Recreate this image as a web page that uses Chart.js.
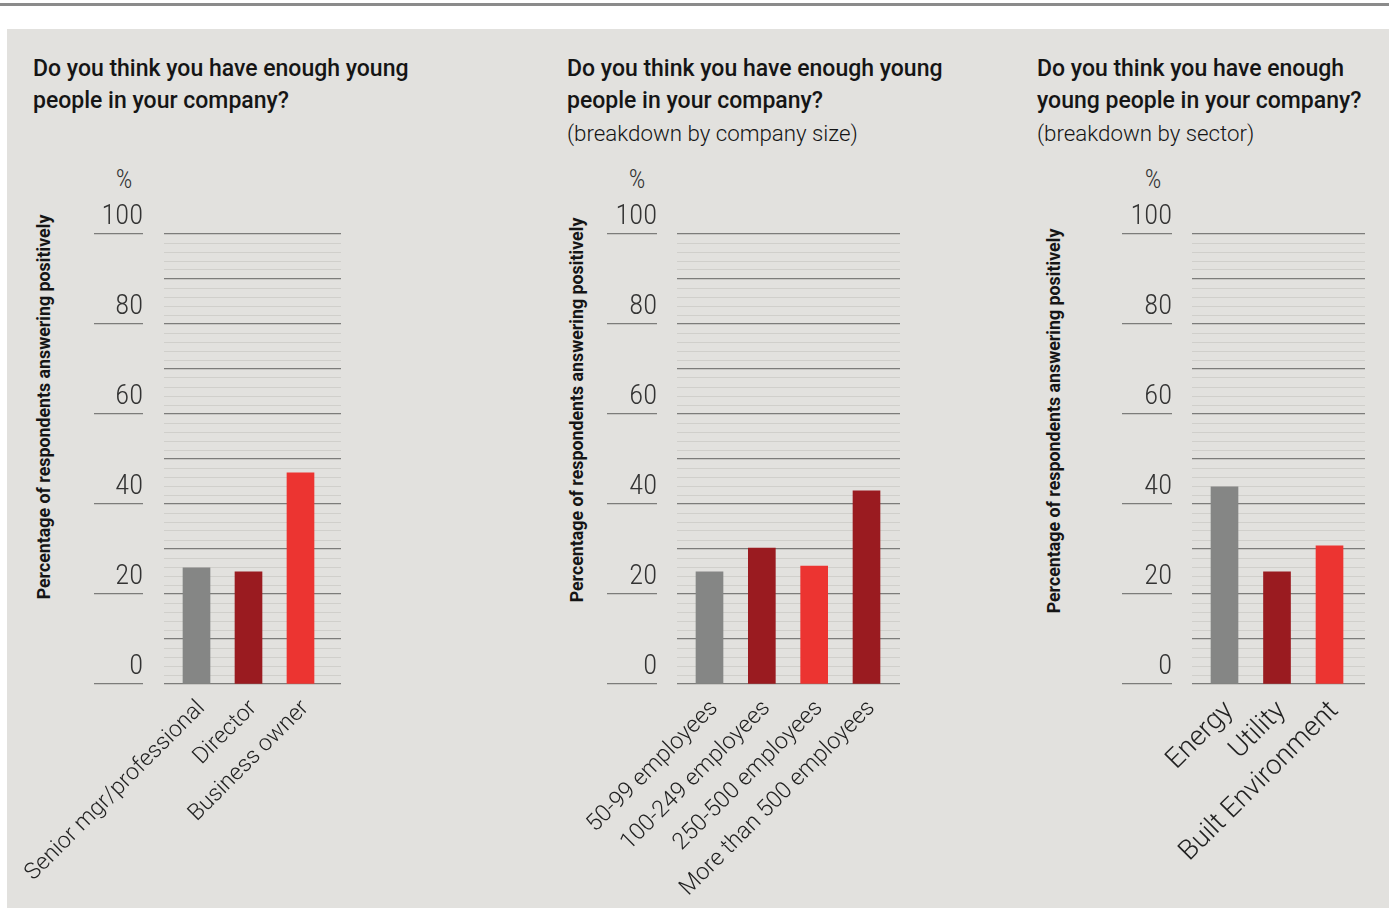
<!DOCTYPE html>
<html>
<head>
<meta charset="utf-8">
<script src="https://cdn.jsdelivr.net/npm/chart.js@4.4.1/dist/chart.umd.min.js"></script>
<style>
  body { margin: 0; background: #fff; width: 1393px; height: 908px; position: relative; overflow: hidden; font-family: Roboto, sans-serif; color: #151515; }
  .rule { position: absolute; left: 0; top: 3px; width: 1389px; height: 2.5px; background: #8b8b8b; }
  .panel { position: absolute; left: 7px; top: 29px; width: 1382px; height: 879px; background: #e2e1de; }
  .title { position: absolute; top: 53px; font-size: 23px; line-height: 32px; font-weight: 500; white-space: nowrap; }
  .title span { font-weight: 300; font-size: 22.3px; }
  .unit { position: absolute; top: 166px; width: 40px; text-align: center; font-size: 26px; line-height: 26px; font-weight: 300; font-stretch: condensed; color: #333; }
  .ytitle { position: absolute; width: 440px; height: 20px; line-height: 20px; text-align: center; font-size: 17.8px; font-weight: 700; transform: rotate(-90deg); white-space: nowrap; }
  canvas { position: absolute; top: 150px; }
</style>
</head>
<body>
<div class="rule"></div>
<div class="panel"></div>

<div class="title" style="left:33px">Do you think you have enough young<br>people in your company?</div>
<div class="title" style="left:567px">Do you think you have enough young<br>people in your company?<br><span>(breakdown by company size)</span></div>
<div class="title" style="left:1037px">Do you think you have enough<br>young people in your company?<br><span>(breakdown by sector)</span></div>

<div class="unit" style="left:104px">%</div>
<div class="unit" style="left:617px">%</div>
<div class="unit" style="left:1133px">%</div>

<div class="ytitle" style="left:-176px;top:397px">Percentage of respondents answering positively</div>
<div class="ytitle" style="left:357px;top:400px">Percentage of respondents answering positively</div>
<div class="ytitle" style="left:834px;top:411px">Percentage of respondents answering positively</div>

<canvas id="byRole"></canvas>
<canvas id="bySize"></canvas>
<canvas id="bySector"></canvas>

<script>
// survey answers, % answering "yes"
const roleLabels = ['Senior mgr/professional', 'Director', 'Business owner'];
const roleValues = [25.8, 24.9, 46.9];

const sizeLabels = ['50-99 employees', '100-249 employees', '250-500 employees', 'More than 500 employees'];
const sizeValues = [24.9, 30.2, 26.2, 42.9];

const sectorLabels = ['Energy', 'Utility', 'Built Environment'];
const sectorValues = [43.8, 24.9, 30.7];

const yTicks = [0, 20, 40, 60, 80, 100];

const GREY = '#858685';
const DARK_RED = '#9a1b20';
const RED = '#ec3431';
const MAJOR_LINE = '#7c7c7a';
const MINOR_LINE = '#d0cfcb';

Chart.defaults.font.family = 'Roboto';

// builds one panel; box holds the pixel columns of the tick rule and plot area
function makePanel(id, labels, values, colors, box) {
    const canvas = document.getElementById(id);
    const left = box.tickEnd - 125;
    canvas.width = box.areaRight + 12 - left;
    canvas.height = 757;
    canvas.style.left = left + 'px';
    const tickLen = box.tickEnd - box.tickStart;

    return new Chart(canvas, {
        type: 'bar',
        data: {
            datasets: [{
                data: values.map((v, i) => ({ x: i, y: v })),
                backgroundColor: colors,
                barThickness: 27
            }]
        },
        options: {
            responsive: false,
            animation: false,
            layout: { padding: { left: 55, right: 12, top: 84, bottom: 0 } },
            plugins: { legend: { display: false }, tooltip: { enabled: false } },
            scales: {
                x: {
                    type: 'linear',
                    offset: false,
                    min: box.xMin,
                    max: box.xMax,
                    grid: { display: false, drawTicks: false },
                    border: { display: false },
                    afterBuildTicks: s => { s.ticks = labels.map((_, i) => ({ value: i })); },
                    afterFit: s => { s.height = 223; s.paddingLeft = 0; s.paddingRight = 0; },
                    ticks: {
                        autoSkip: false,
                        minRotation: 45,
                        maxRotation: 45,
                        padding: 11,
                        labelOffset: 5,
                        color: '#222',
                        font: { size: box.labelSize, weight: '300' },
                        callback: v => labels[v]
                    }
                },
                y: {
                    min: 0,
                    max: 100,
                    weight: 0,
                    afterBuildTicks: s => {
                        const t = [];
                        for (let v = 0; v <= 100; v += 2) t.push({ value: v });
                        s.ticks = t;
                    },
                    afterFit: s => { s.width = box.areaLeft - box.tickEnd; },
                    ticks: { display: false },
                    border: { display: false },
                    grid: {
                        drawTicks: false,
                        color: c => c.tick.value % 10 === 0 ? MAJOR_LINE : MINOR_LINE,
                        lineWidth: c => c.tick.value % 10 === 0 ? 1.3 : 1
                    }
                },
                yt: {
                    position: 'left',
                    weight: 1,
                    min: 0,
                    max: 100,
                    afterBuildTicks: s => { s.ticks = yTicks.map(v => ({ value: v })); },
                    afterFit: s => { s.width = 70; },
                    border: { display: false },
                    grid: { drawOnChartArea: false, drawTicks: true, tickLength: tickLen, color: MAJOR_LINE, lineWidth: 1.3 },
                    ticks: {
                        padding: -tickLen,
                        labelOffset: -17,
                        color: '#333',
                        font: { size: 28.5, weight: '300 condensed' }
                    }
                }
            }
        }
    });
}

makePanel('byRole', roleLabels, roleValues, [GREY, DARK_RED, RED],
    { tickStart: 94, tickEnd: 143, areaLeft: 164, areaRight: 341, xMin: -0.625, xMax: 2.779, labelSize: 23 });
makePanel('bySize', sizeLabels, sizeValues, [GREY, DARK_RED, RED, DARK_RED],
    { tickStart: 607, tickEnd: 657, areaLeft: 677, areaRight: 900, xMin: -0.621, xMax: 3.64, labelSize: 23.3 });
makePanel('bySector', sectorLabels, sectorValues, [GREY, DARK_RED, RED],
    { tickStart: 1122, tickEnd: 1172, areaLeft: 1192, areaRight: 1365, xMin: -0.619, xMax: 2.676, labelSize: 27.5 });
</script>
</body>
</html>
